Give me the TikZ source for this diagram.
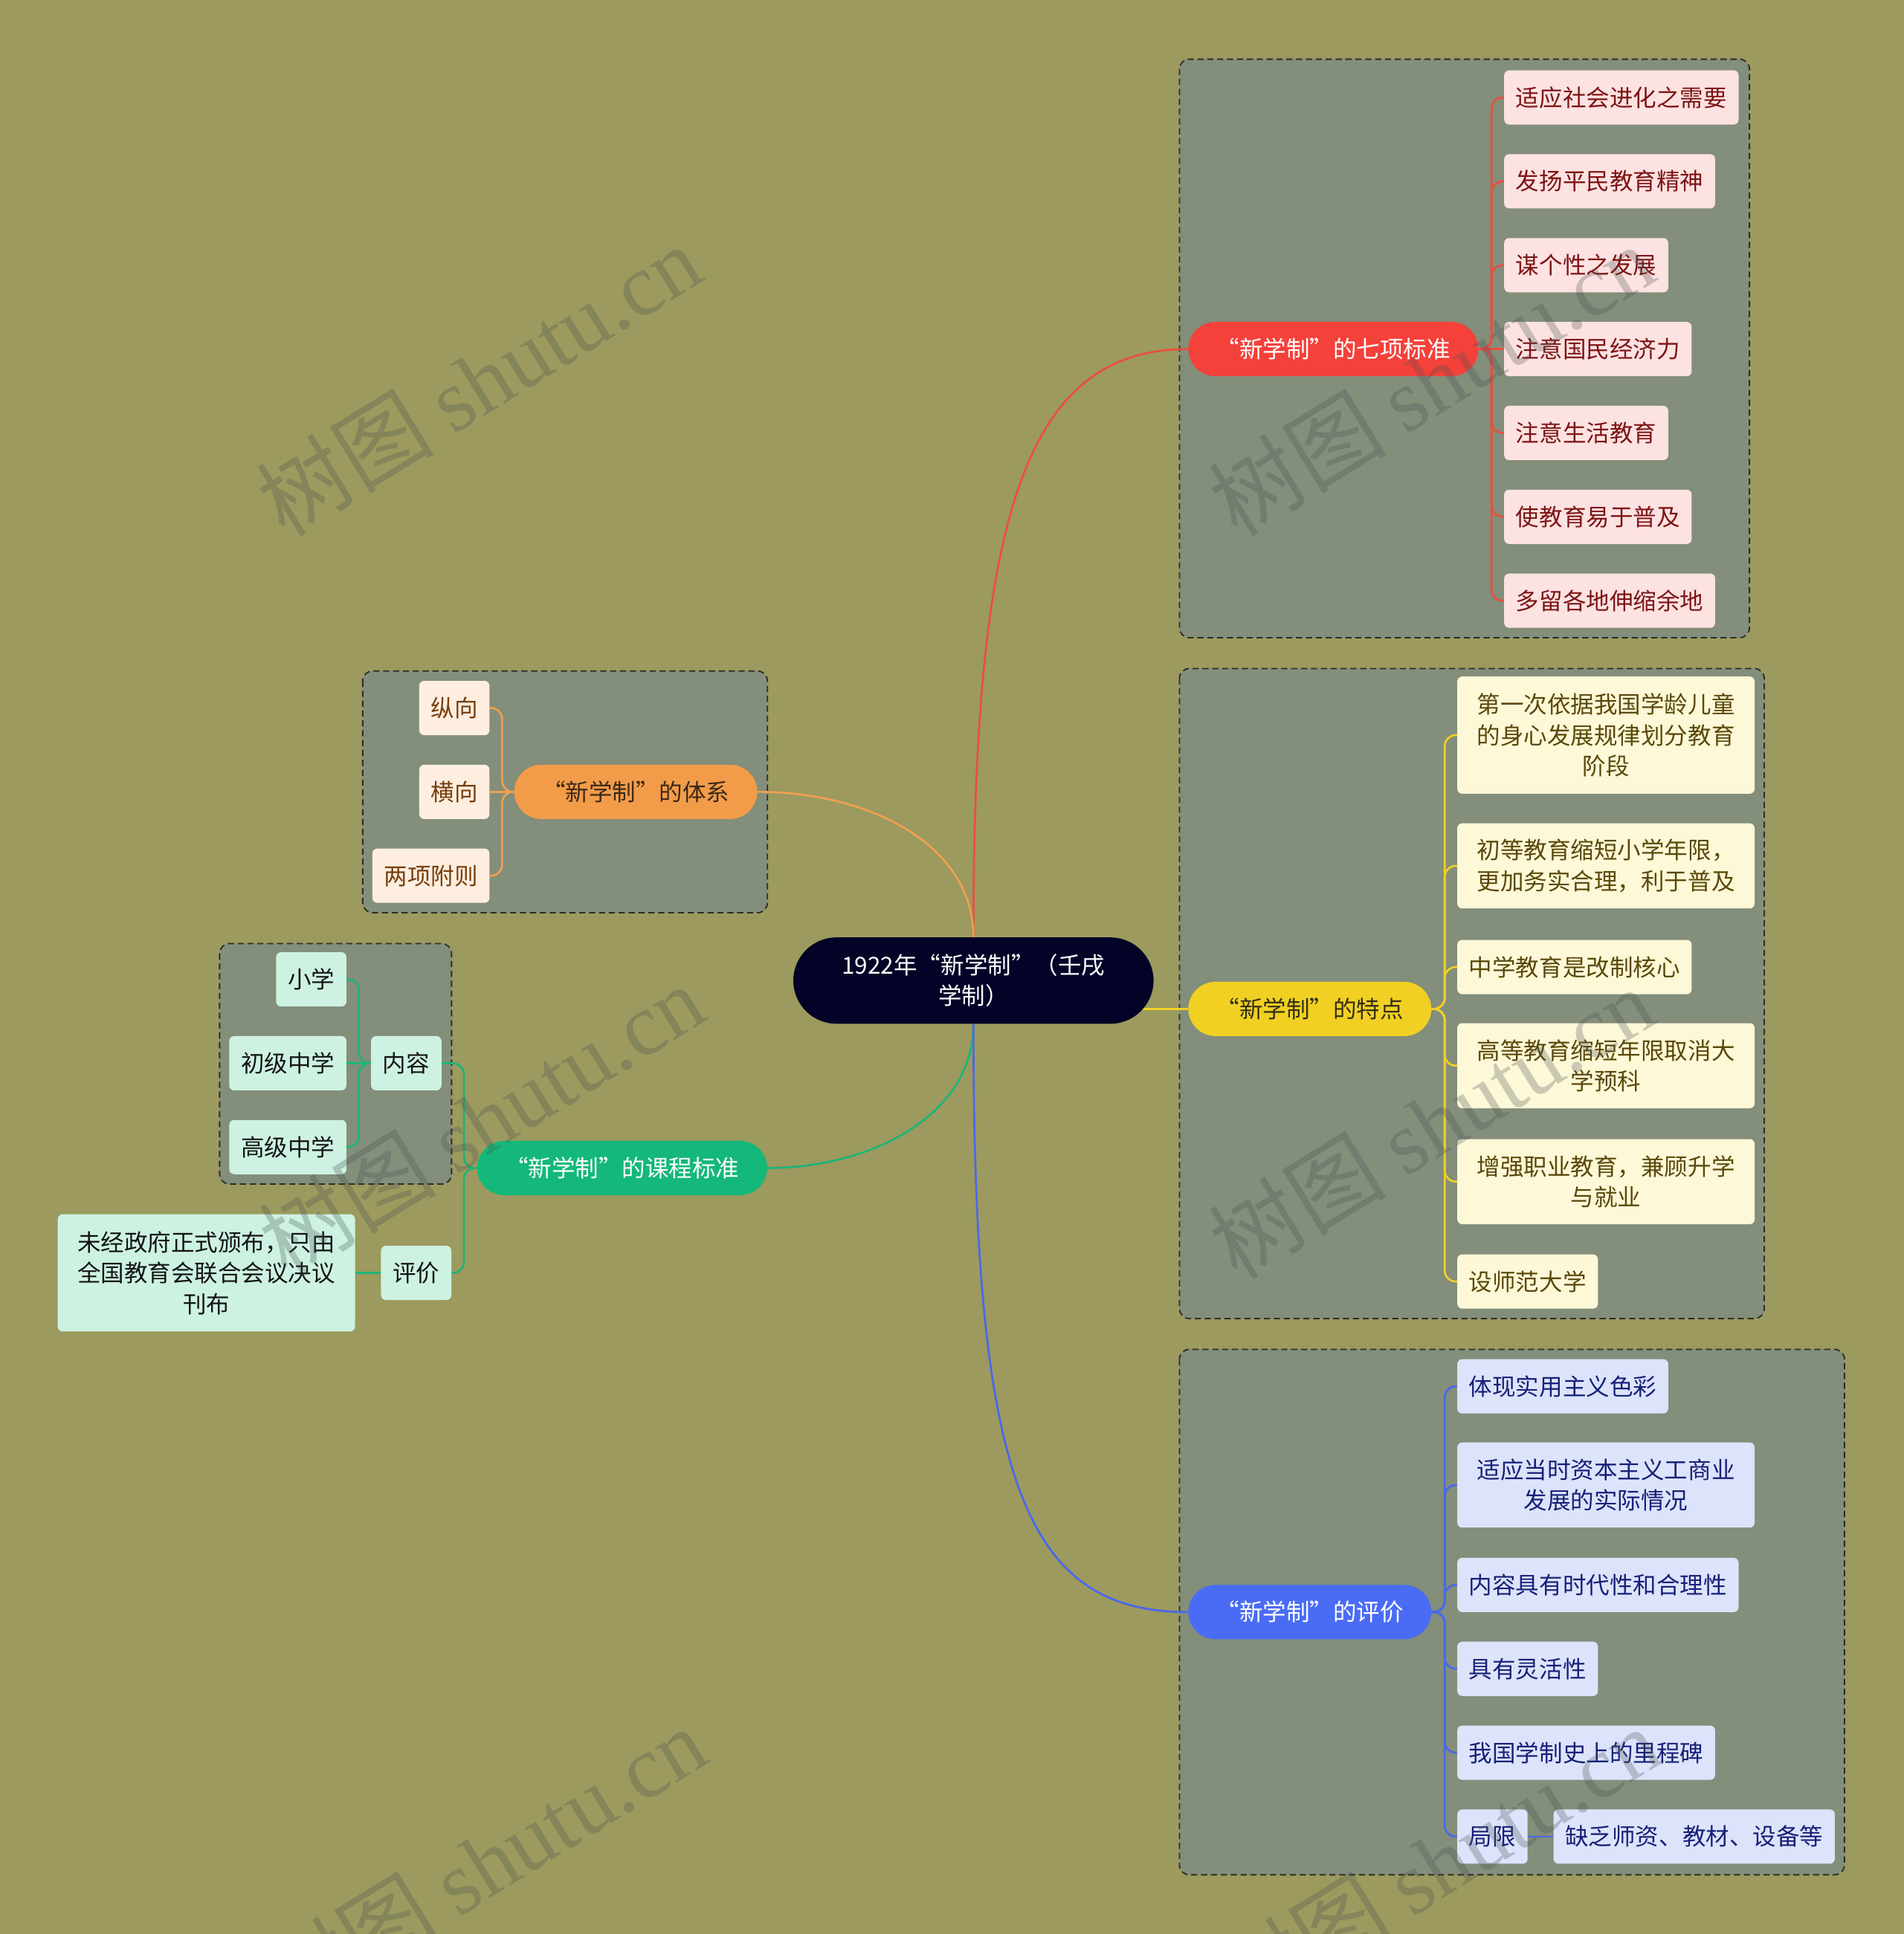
\documentclass[tikz,border=0pt]{standalone}
\usepackage{fontspec}
\setmainfont{Noto Sans CJK SC}
\newfontfamily\wmlatin{Liberation Serif}
\newcommand\mmfs{\fontsize{19}{25}\selectfont}
\pgfdeclarelayer{grp}
\pgfdeclarelayer{conn}
\pgfdeclarelayer{wm}
\pgfsetlayers{grp,conn,main,wm}
\definecolor{bgc}{RGB}{156,154,94}
\definecolor{grpc}{RGB}{131,142,123}
\definecolor{dashc}{RGB}{45,45,38}
\definecolor{ctr}{RGB}{3,3,40}
\definecolor{rmain}{RGB}{244,65,58}
\definecolor{rline}{RGB}{236,78,62}
\definecolor{rfill}{RGB}{253,226,226}
\definecolor{rtext}{RGB}{125,20,20}
\definecolor{ymain}{RGB}{241,208,35}
\definecolor{yfill}{RGB}{253,248,215}
\definecolor{ytext}{RGB}{90,72,10}
\definecolor{ymtext}{RGB}{50,45,20}
\definecolor{bmain}{RGB}{74,108,245}
\definecolor{bline}{RGB}{72,104,238}
\definecolor{bfill}{RGB}{221,227,250}
\definecolor{btext}{RGB}{22,32,120}
\definecolor{omain}{RGB}{242,156,74}
\definecolor{oline}{RGB}{240,160,80}
\definecolor{ofill}{RGB}{253,238,224}
\definecolor{otext}{RGB}{120,62,12}
\definecolor{omtext}{RGB}{60,40,20}
\definecolor{gmain}{RGB}{20,184,122}
\definecolor{gline}{RGB}{28,180,120}
\definecolor{gfill}{RGB}{205,242,226}
\definecolor{gtext}{RGB}{20,20,20}
\definecolor{wmc}{RGB}{70,80,80}
\begin{document}
\begin{tikzpicture}[x=1pt,y=-1pt,
  every node/.style={font=\mmfs},
  leaf/.style={rounded corners=4pt, minimum height=44pt, inner xsep=9.5pt, inner ysep=0pt},
  mleaf/.style={leaf, align=center, inner xsep=16pt},
  topic/.style={rounded corners=22pt, minimum height=44pt, inner xsep=22.5pt, inner ysep=0pt},
  grpbox/.style={draw=dashc, fill=grpc, dash pattern=on 5pt off 3pt, line width=1.1pt, rounded corners=8pt},
  link/.style={line width=1.6pt, rounded corners=9pt},
  wmark/.style={text=wmc, opacity=0.28, rotate=31.6, font=\fontsize{72}{80}\selectfont}
]
\useasboundingbox (0,0) rectangle (1543,1568);
\begin{pgfonlayer}{grp}
\fill[bgc] (0,0) rectangle (1543,1568);
\draw[grpbox] (956,48) rectangle (1418,517);
\draw[grpbox] (294,544) rectangle (622,740);
\draw[grpbox] (178,765) rectangle (366,960);
\draw[grpbox] (956,542) rectangle (1430,1069);
\draw[grpbox] (956,1094) rectangle (1495,1520);
\end{pgfonlayer}

% center
\node[fill=ctr, text=white, rounded corners=35pt, minimum width=292pt, minimum height=70pt, align=center, inner sep=0pt] (ctr) at (789,795) {1922年“新学制”（壬戌\\学制）};

% main topics
\node[topic, fill=rmain, text=white, anchor=west] (red) at (963,283) {“新学制”的七项标准};
\node[topic, fill=ymain, text=ymtext, anchor=west] (yel) at (963,818) {“新学制”的特点};
\node[topic, fill=bmain, text=white, anchor=west] (blu) at (963,1307) {“新学制”的评价};
\node[topic, fill=omain, text=omtext, anchor=east] (ora) at (614,642) {“新学制”的体系};
\node[topic, fill=gmain, text=white, anchor=east] (grn) at (622,947) {“新学制”的课程标准};

% red leaves
\begin{scope}[every node/.append style={leaf, fill=rfill, text=rtext, anchor=west}]
\node (r1) at (1219,79) {适应社会进化之需要};
\node (r2) at (1219,147) {发扬平民教育精神};
\node (r3) at (1219,215) {谋个性之发展};
\node (r4) at (1219,283) {注意国民经济力};
\node (r5) at (1219,351) {注意生活教育};
\node (r6) at (1219,419) {使教育易于普及};
\node (r7) at (1219,487) {多留各地伸缩余地};
\end{scope}

% yellow leaves
\begin{scope}[every node/.append style={fill=yfill, text=ytext, anchor=west}]
\node[mleaf, minimum height=95pt] (y1) at (1181,596) {第一次依据我国学龄儿童\\的身心发展规律划分教育\\阶段};
\node[mleaf, minimum height=69pt] (y2) at (1181,702) {初等教育缩短小学年限，\\更加务实合理，利于普及};
\node[leaf] (y3) at (1181,784) {中学教育是改制核心};
\node[mleaf, minimum height=69pt] (y4) at (1181,864) {高等教育缩短年限取消大\\学预科};
\node[mleaf, minimum height=69pt] (y5) at (1181,958) {增强职业教育，兼顾升学\\与就业};
\node[leaf] (y6) at (1181,1039) {设师范大学};
\end{scope}

% blue leaves
\begin{scope}[every node/.append style={fill=bfill, text=btext, anchor=west}]
\node[leaf] (b1) at (1181,1124) {体现实用主义色彩};
\node[mleaf, minimum height=69pt] (b2) at (1181,1204) {适应当时资本主义工商业\\发展的实际情况};
\node[leaf] (b3) at (1181,1285) {内容具有时代性和合理性};
\node[leaf] (b4) at (1181,1353) {具有灵活性};
\node[leaf] (b5) at (1181,1421) {我国学制史上的里程碑};
\node[leaf] (b6) at (1181,1489) {局限};
\node[leaf] (b7) at (1259,1489) {缺乏师资、教材、设备等};
\end{scope}

% orange leaves
\begin{scope}[every node/.append style={leaf, fill=ofill, text=otext, anchor=east}]
\node (o1) at (397,574) {纵向};
\node (o2) at (397,642) {横向};
\node (o3) at (397,710) {两项附则};
\end{scope}

% green leaves
\begin{scope}[every node/.append style={fill=gfill, text=gtext, anchor=east}]
\node[leaf] (g1) at (358,862) {内容};
\node[leaf] (g2) at (366,1032) {评价};
\node[leaf] (g11) at (281,794) {小学};
\node[leaf] (g12) at (281,862) {初级中学};
\node[leaf] (g13) at (281,930) {高级中学};
\node[mleaf, minimum height=95pt] (g21) at (288,1032) {未经政府正式颁布，只由\\全国教育会联合会议决议\\刊布};
\end{scope}

\begin{pgfonlayer}{conn}
% center links
\draw[link, rline] (ctr.north) .. controls (789,420) and (830,283) .. (red.west);
\draw[link, oline] (ctr.north) .. controls (789,685) and (705,642) .. (ora.east);
\draw[link, ymain] (ctr.east |- yel.west) ++(-20,0) coordinate (ystart) -- (yel.west);
\draw[link, gline] (ctr.south) .. controls (789,905) and (705,947) .. (grn.east);
\draw[link, bline] (ctr.south) .. controls (789,1200) and (830,1307) .. (blu.west);
% red
\foreach \c in {r1,r2,r3,r5,r6,r7} \draw[link, rline] (red.east) -- (1209,283) |- (\c.west);
\draw[link, rline] (red.east) -- (r4.west);
% yellow
\foreach \c in {y1,y2,y3,y4,y5,y6} \draw[link, ymain] (yel.east) -- (1171,818) |- (\c.west);
% blue
\foreach \c in {b1,b2,b3,b4,b5,b6} \draw[link, bline] (blu.east) -- (1171,1307) |- (\c.west);
\draw[link, bline] (b6.east) -- (b7.west);
% orange
\draw[link, oline] (ora.west) -- (407,642) |- (o1.east);
\draw[link, oline] (ora.west) -- (407,642) |- (o3.east);
\draw[link, oline] (ora.west) -- (o2.east);
% green
\draw[link, gline] (grn.west) -- (376,947) |- (g1.east);
\draw[link, gline] (grn.west) -- (376,947) |- (g2.east);
\draw[link, gline] (g1.west) -- (291,862) |- (g11.east);
\draw[link, gline] (g1.west) -- (291,862) |- (g13.east);
\draw[link, gline] (g1.west) -- (g12.east);
\draw[link, gline] (g2.west) -- (g21.east);
\end{pgfonlayer}

\begin{pgfonlayer}{wm}
\foreach \i/\px/\py in {1/388/308, 2/1160/308, 3/390/908, 4/1160/910, 5/392/1510, 6/1165/1510}
  \node[wmark] (wm\i) at (\px,\py) {树图 {\wmlatin shutu.cn}};
\end{pgfonlayer}
\end{tikzpicture}
\end{document}
